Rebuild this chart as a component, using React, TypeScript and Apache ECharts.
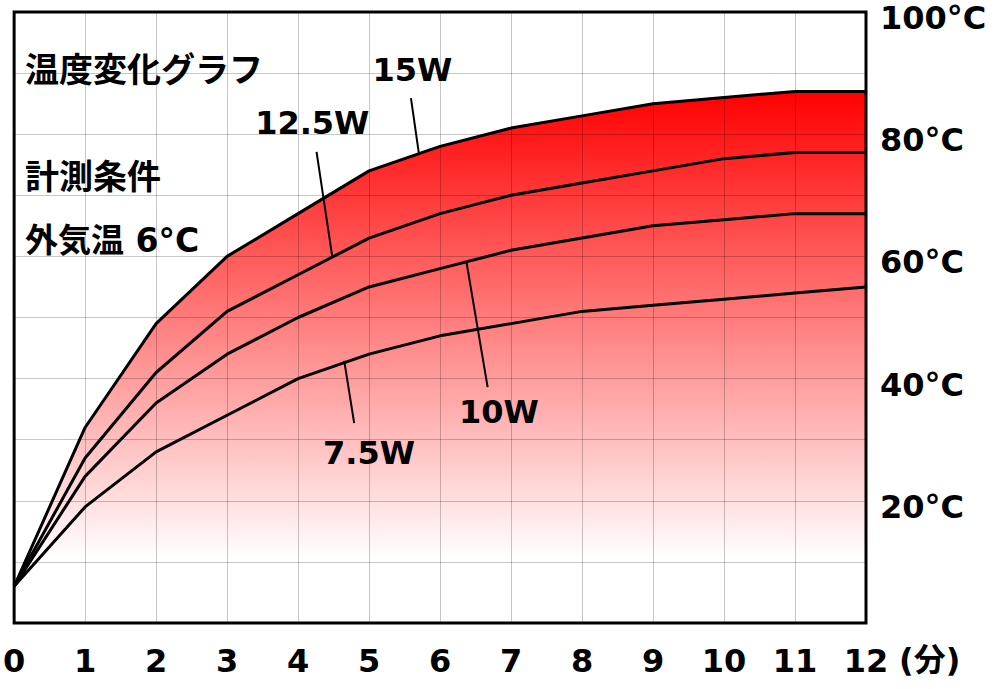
import React, { useEffect, useRef } from "react";
import * as echarts from "echarts";

const minutes = [0, 1, 2, 3, 4, 5, 6, 7, 8, 9, 10, 11, 12];
const w15 = [6, 32, 49, 60, 67, 74, 78, 81, 83, 85, 86, 87, 87];
const w125 = [6, 27, 41, 51, 57, 63, 67, 70, 72, 74, 76, 77, 77];
const w10 = [6, 24, 36, 44, 50, 55, 58, 61, 63, 65, 66, 67, 67];
const w75 = [6, 19, 28, 34, 40, 44, 47, 49, 51, 52, 53, 54, 55];

const seriesNames = ["15W", "12.5W", "10W", "7.5W"];
const labelCoords = [
  [5.61, 90.5],
  [4.2, 81.8],
  [6.83, 34.5],
  [5.0, 27.8],
];
const pointerStarts = [
  [5.59, 85.9],
  [4.26, 77.1],
  [6.37, 59.2],
  [4.65, 42.9],
];
const pointerEnds = [
  [5.7, 77.0],
  [4.48, 60.1],
  [6.67, 38.6],
  [4.79, 32.7],
];
const noteLines = ["温度変化グラフ", "計測条件", "外気温 6°C"];
const unitLabel = "(分)";

const FONT = "'DejaVu Sans', 'Noto Sans CJK JP', sans-serif";

export default function App() {
  const ref = useRef<HTMLDivElement>(null);
  useEffect(() => {
    if (!ref.current) return;
    const chart = echarts.init(ref.current, undefined, { renderer: "svg" });
    const all = [w15, w125, w10, w75];
    const pair = (arr: number[]) => minutes.map((m, i) => [m, arr[i]]);
    const lineSeries = all.map((arr, i) => ({
      name: seriesNames[i],
      type: "line",
      data: pair(arr),
      z: 3,
      symbol: "none",
      lineStyle: { color: "#000", width: 3 },
      markPoint: {
        symbol: "circle",
        symbolSize: 1,
        itemStyle: { color: "transparent" },
        label: {
          show: true,
          position: "inside",
          formatter: seriesNames[i],
          color: "#000",
          fontSize: 32,
          fontWeight: "bold",
          fontFamily: FONT,
        },
        data: [{ coord: labelCoords[i] }],
      },
      markLine: {
        silent: true,
        symbol: ["none", "none"],
        label: { show: false },
        lineStyle: { color: "#000", width: 2, type: "solid" },
        data: [[{ coord: pointerStarts[i] }, { coord: pointerEnds[i] }]],
      },
    }));
    chart.setOption({
      animation: false,
      grid: {
        left: 12,
        top: 12,
        right: 134,
        bottom: 66,
        show: true,
        z: 4,
        backgroundColor: "transparent",
        borderColor: "#000",
        borderWidth: 3,
      },
      xAxis: {
        type: "value",
        min: 0,
        max: 12,
        interval: 1,
        z: 2,
        axisLine: { show: false },
        axisTick: { show: false },
        splitLine: { show: true, lineStyle: { color: "rgba(0,0,0,0.22)", width: 1 } },
        axisLabel: {
          margin: 22,
          color: "#000",
          fontSize: 32,
          fontWeight: "bold",
          fontFamily: FONT,
        },
      },
      yAxis: {
        type: "value",
        position: "right",
        min: 0,
        max: 100,
        interval: 10,
        z: 2,
        axisLine: { show: false },
        axisTick: { show: false },
        splitLine: { show: true, lineStyle: { color: "rgba(0,0,0,0.22)", width: 1 } },
        axisLabel: {
          margin: 14,
          verticalAlign: "top",
          lineHeight: 12,
          color: "#000",
          fontSize: 32,
          fontWeight: "bold",
          fontFamily: FONT,
          formatter: (v: number) => (v > 0 && v % 20 === 0 ? v + "°C" : ""),
        },
      },
      series: [
        {
          name: "fill",
          type: "line",
          data: pair(w15),
          z: 1,
          symbol: "none",
          lineStyle: { width: 0 },
          areaStyle: {
            opacity: 1,
            color: new echarts.graphic.LinearGradient(0, 0, 0, 1, [
              { offset: 0, color: "#ff0000" },
              { offset: 0.88, color: "#ffffff" },
              { offset: 1, color: "#ffffff" },
            ]),
          },
        },
        ...lineSeries,
      ],
      graphic: [
        ...noteLines.map((t, i) => ({
          type: "text",
          x: 25,
          y: [70, 177, 240][i],
          z: 10,
          style: {
            text: t,
            fill: "#000",
            fontSize: [34, 34, 33][i],
            fontWeight: "bold",
            fontFamily: FONT,
            verticalAlign: "middle",
          },
        })),
        {
          type: "text",
          x: 899,
          y: 660,
          z: 10,
          style: {
            text: unitLabel,
            fill: "#000",
            fontSize: 32,
            fontWeight: "bold",
            fontFamily: FONT,
            verticalAlign: "middle",
          },
        },
      ],
    });
    return () => chart.dispose();
  }, []);
  return (
    <div
      ref={ref}
      style={{ position: "fixed", left: 0, top: 0, width: 1000, height: 689, background: "#fff" }}
    />
  );
}
